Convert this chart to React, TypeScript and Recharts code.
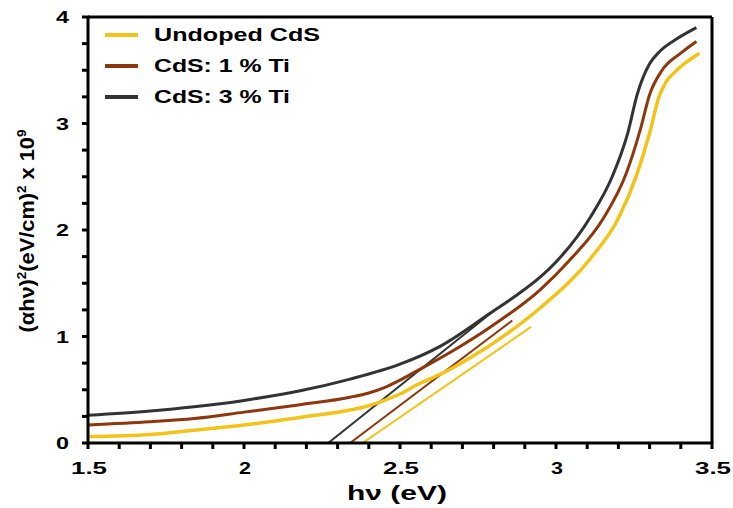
import { LineChart, Line, XAxis, YAxis, ReferenceLine, Legend } from "recharts";

// photon energy (eV) and (αhν)² x 10^9
const undopedX = [1.5, 1.7, 1.84, 2.0, 2.18, 2.34, 2.4, 2.45, 2.5, 2.55, 2.66, 2.72, 2.84, 2.95, 3.11, 3.2, 3.26, 3.3, 3.33, 3.355, 3.38, 3.42, 3.46];
const undopedY = [0.06, 0.08, 0.12, 0.17, 0.24, 0.31, 0.35, 0.4, 0.46, 0.54, 0.69, 0.79, 1.02, 1.27, 1.73, 2.11, 2.53, 2.91, 3.25, 3.4, 3.48, 3.58, 3.66];

const ti1X = [1.5, 1.7, 1.84, 2.0, 2.18, 2.34, 2.4, 2.45, 2.5, 2.55, 2.66, 2.79, 2.95, 3.045, 3.152, 3.225, 3.27, 3.3, 3.34, 3.4, 3.45];
const ti1Y = [0.17, 0.2, 0.23, 0.29, 0.36, 0.43, 0.47, 0.52, 0.59, 0.67, 0.85, 1.09, 1.44, 1.72, 2.11, 2.53, 2.94, 3.27, 3.5, 3.66, 3.77];

const ti3X = [1.5, 1.7, 1.84, 2.0, 2.18, 2.34, 2.5, 2.63, 2.79, 2.87, 2.95, 3.0, 3.11, 3.18, 3.23, 3.26, 3.3, 3.33, 3.39, 3.45];
const ti3Y = [0.26, 0.3, 0.34, 0.4, 0.49, 0.6, 0.74, 0.91, 1.22, 1.38, 1.56, 1.7, 2.12, 2.5, 2.91, 3.27, 3.56, 3.67, 3.8, 3.9];

// linear extrapolations to the energy axis
const undopedFitX = [2.38, 2.92];
const undopedFitY = [0, 1.09];
const ti1FitX = [2.34, 2.86];
const ti1FitY = [0, 1.15];
const ti3FitX = [2.27, 2.8];
const ti3FitY = [0, 1.24];

const seriesNames = ["Undoped CdS", "CdS: 1 % Ti", "CdS: 3 % Ti"];
const seriesColors = ["#F2C318", "#8E360C", "#333333"];

const energyTicks = [1.5, 1.6, 1.7, 1.8, 1.9, 2, 2.1, 2.2, 2.3, 2.4, 2.5, 2.6, 2.7, 2.8, 2.9, 3, 3.1, 3.2, 3.3, 3.4, 3.5];
const valueTicks = [0, 0.25, 0.5, 0.75, 1, 1.25, 1.5, 1.75, 2, 2.25, 2.5, 2.75, 3, 3.25, 3.5, 3.75, 4];

const toPoints = (xs: number[], ys: number[]) => xs.map((x, i) => ({ x, y: ys[i] }));

const FONT = "'Liberation Sans', Arial, sans-serif";

const isMajor = (v: number, step: number) => Math.abs(v / step - Math.round(v / step)) < 1e-6;

// small outward tick marks, label only on the major ones
function XTick(props: any) {
  const { x, y, payload } = props;
  const v = payload.value;
  const label = String(v);
  return (
    <g>
      <rect x={x - 1.5} y={y - 8} width={3} height={7} fill="#000" />
      {isMajor(v, 0.5) && (
        <text
          x={x + 1}
          y={y + 24}
          textAnchor="middle"
          fontFamily={FONT}
          fontWeight="bold"
          fontSize={17}
          fill="#000"
          textLength={label.length === 1 ? 12 : 36}
          lengthAdjust="spacingAndGlyphs"
        >
          {label}
        </text>
      )}
    </g>
  );
}

function YTick(props: any) {
  const { x, y, payload } = props;
  const v = payload.value;
  return (
    <g>
      <rect x={x + 1} y={y - 1.5} width={7} height={3} fill="#000" />
      {isMajor(v, 1) && (
        <text
          x={x - 12}
          y={y + 6}
          textAnchor="end"
          fontFamily={FONT}
          fontWeight="bold"
          fontSize={17}
          fill="#000"
          textLength={13}
          lengthAdjust="spacingAndGlyphs"
        >
          {String(v)}
        </text>
      )}
    </g>
  );
}

function LegendBox() {
  return (
    <svg width={250} height={100}>
      {seriesNames.map((name, i) => {
        const cy = 15 + i * 31;
        return (
          <g key={name}>
            <line x1={5} x2={38} y1={cy} y2={cy} stroke={seriesColors[i]} strokeWidth={4} />
            <text
              x={54}
              y={cy + 6}
              fontFamily={FONT}
              fontWeight="bold"
              fontSize={18}
              fill="#000"
              textLength={i === 0 ? 166 : 136}
              lengthAdjust="spacingAndGlyphs"
            >
              {name}
            </text>
          </g>
        );
      })}
    </svg>
  );
}

export default function App() {
  return (
    <div style={{ position: "absolute", left: 0, top: 0, width: 733, height: 508, background: "#fff" }}>
      <LineChart width={733} height={508} margin={{ top: 17, right: 21, bottom: 0, left: 0 }}>
        <XAxis
          dataKey="x"
          type="number"
          domain={[1.5, 3.5]}
          ticks={energyTicks}
          interval={0}
          allowDataOverflow
          height={65}
          axisLine={{ stroke: "#000", strokeWidth: 3 }}
          tickLine={false}
          tickSize={7}
          tickMargin={0}
          tick={<XTick />}
        />
        <YAxis
          type="number"
          domain={[0, 4]}
          ticks={valueTicks}
          interval={0}
          allowDataOverflow
          width={88}
          axisLine={{ stroke: "#000", strokeWidth: 3 }}
          tickLine={false}
          tickSize={7}
          tickMargin={0}
          tick={<YTick />}
        />
        <ReferenceLine y={4} stroke="#000" strokeWidth={3} />
        <ReferenceLine x={3.5} stroke="#000" strokeWidth={3} />

        <Line data={toPoints(undopedFitX, undopedFitY)} dataKey="y" type="linear" stroke={seriesColors[0]} strokeWidth={2} dot={false} legendType="none" isAnimationActive={false} />
        <Line data={toPoints(ti1FitX, ti1FitY)} dataKey="y" type="linear" stroke={seriesColors[1]} strokeWidth={2} dot={false} legendType="none" isAnimationActive={false} />
        <Line data={toPoints(ti3FitX, ti3FitY)} dataKey="y" type="linear" stroke={seriesColors[2]} strokeWidth={2} dot={false} legendType="none" isAnimationActive={false} />

        <Line data={toPoints(undopedX, undopedY)} dataKey="y" name={seriesNames[0]} type="monotone" stroke={seriesColors[0]} strokeWidth={3.5} dot={false} isAnimationActive={false} />
        <Line data={toPoints(ti1X, ti1Y)} dataKey="y" name={seriesNames[1]} type="monotone" stroke={seriesColors[1]} strokeWidth={3} dot={false} isAnimationActive={false} />
        <Line data={toPoints(ti3X, ti3Y)} dataKey="y" name={seriesNames[2]} type="monotone" stroke={seriesColors[2]} strokeWidth={3} dot={false} isAnimationActive={false} />

        <Legend
          layout="vertical"
          align="center"
          verticalAlign="middle"
          content={() => <LegendBox />}
          wrapperStyle={{ left: 100, top: 20, width: 250, height: 100 }}
        />

        <text
          transform="rotate(-90, 34, 231)"
          x={34}
          y={231}
          textAnchor="middle"
          fontFamily={FONT}
          fontWeight="bold"
          fontSize={21}
          fill="#000"
          textLength={203}
          lengthAdjust="spacingAndGlyphs"
        >
          (αhν)<tspan dy={-8} fontSize={13}>2</tspan>
          <tspan dy={8}>(eV/cm)</tspan>
          <tspan dy={-8} fontSize={13}>2</tspan>
          <tspan dy={8}> x 10</tspan>
          <tspan dy={-8} fontSize={13}>9</tspan>
        </text>
        <text
          x={397}
          y={500}
          textAnchor="middle"
          fontFamily={FONT}
          fontWeight="bold"
          fontSize={20}
          fill="#000"
          textLength={100}
          lengthAdjust="spacingAndGlyphs"
        >
          hν (eV)
        </text>
      </LineChart>
    </div>
  );
}
